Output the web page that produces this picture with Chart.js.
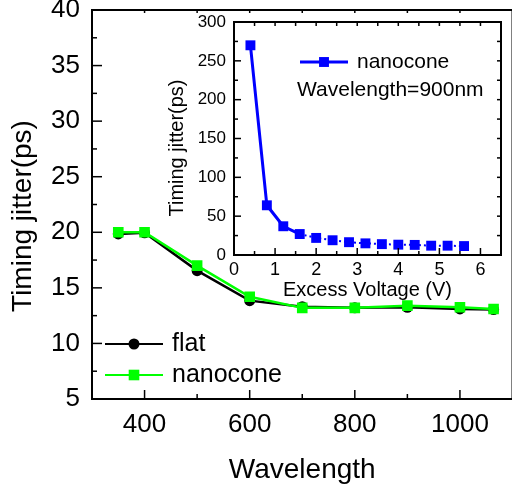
<!DOCTYPE html>
<html>
<head>
  <meta charset="utf-8">
  <title>Timing jitter vs wavelength</title>
  <script src="https://cdn.jsdelivr.net/npm/chart.js@4.4.1/dist/chart.umd.min.js"></script>
  <style>
    body { margin: 0; background: #fff; width: 512px; height: 490px; overflow: hidden; position: relative; }
    #main-chart { position: absolute; left: 0; top: 0; }
    #inset-chart { position: absolute; left: 150px; top: 0; }
  </style>
</head>
<body>
  <canvas id="main-chart" width="520" height="490"></canvas>
  <canvas id="inset-chart" width="362" height="305"></canvas>
  <script>
    // main plot: timing jitter vs wavelength
    const wavelengths = [350, 400, 500, 600, 700, 800, 900, 1000, 1064];
    const flatJitter = [19.85, 19.95, 16.55, 13.85, 13.3, 13.2, 13.25, 13.1, 13.05];
    const nanoconeJitter = [20.0, 20.0, 17.0, 14.2, 13.2, 13.2, 13.4, 13.25, 13.1];
    const wavelengthTicks = [400, 600, 800, 1000];
    const wavelengthMinor = [500, 700, 900];
    const jitterTicks = [5, 10, 15, 20, 25, 30, 35, 40];
    const jitterMinor = [7.5, 12.5, 17.5, 22.5, 27.5, 32.5, 37.5];

    // inset: nanocone jitter vs excess voltage at 900 nm
    const excessVoltage = [0.4, 0.8, 1.2, 1.6, 2.0, 2.4, 2.8, 3.2, 3.6, 4.0, 4.4, 4.8, 5.2, 5.6];
    const insetJitter = [270, 64, 37, 27, 22, 19, 16.5, 15, 14, 13.3, 13, 12, 12, 11.5];
    const voltageTicks = [0, 1, 2, 3, 4, 5, 6];
    const voltageMinor = [0.5, 1.5, 2.5, 3.5, 4.5, 5.5, 6.5];
    const insetJitterTicks = [0, 50, 100, 150, 200, 250, 300];
    const insetJitterMinor = [25, 75, 125, 175, 225, 275];

    const FONT = '"Liberation Sans", Arial, sans-serif';
    Chart.defaults.font.family = FONT;
    Chart.defaults.color = '#000';

    const toPoints = (xs, ys) => xs.map((x, i) => ({ x: x, y: ys[i] }));
    const fixTicks = vals => s => { s.ticks = vals.map(v => ({ value: v })); };
    const plainLabel = v => String(v);
    // fixed axis box sizes, no extra padding for the end labels
    const fitX = h => s => { s.height = h; s.paddingLeft = 0; s.paddingRight = 0; };
    const fitY = w => s => { s.width = w; s.paddingTop = 0; s.paddingBottom = 0; };

    // frame, inward ticks, legend and free text (Origin style)
    const framePlugin = {
      id: 'frame',
      afterDatasetsDraw(chart, args, opts) {
        const { ctx, chartArea: a, scales } = chart;
        ctx.save();
        ctx.strokeStyle = '#000';
        ctx.lineWidth = 2;
        ctx.strokeRect(a.left, a.top, a.right - a.left, a.bottom - a.top);
        ctx.lineWidth = 1.5;
        (opts.marks || []).forEach(m => {
          m.values.forEach(v => {
            ctx.beginPath();
            if (m.side === 'bottom' || m.side === 'top') {
              const px = scales.x.getPixelForValue(v);
              const y0 = m.side === 'bottom' ? a.bottom : a.top;
              ctx.moveTo(px, y0);
              ctx.lineTo(px, m.side === 'bottom' ? y0 - m.len : y0 + m.len);
            } else {
              const py = scales.y.getPixelForValue(v);
              const x0 = m.side === 'left' ? a.left : a.right;
              ctx.moveTo(x0, py);
              ctx.lineTo(m.side === 'left' ? x0 + m.len : x0 - m.len, py);
            }
            ctx.stroke();
          });
        });
        (opts.legend || []).forEach(e => {
          const ds = chart.data.datasets[e.index];
          ctx.strokeStyle = ds.borderColor;
          ctx.lineWidth = e.lineWidth || ds.borderWidth;
          ctx.setLineDash([]);
          ctx.beginPath();
          ctx.moveTo(e.x1, e.y);
          ctx.lineTo(e.x2, e.y);
          ctx.stroke();
          ctx.fillStyle = ds.pointBackgroundColor;
          ctx.strokeStyle = ds.pointBorderColor;
          Chart.helpers.drawPoint(ctx, { pointStyle: ds.pointStyle, radius: ds.pointRadius, borderWidth: 0 }, (e.x1 + e.x2) / 2, e.y);
          ctx.fillStyle = '#000';
          ctx.font = e.size + 'px ' + FONT;
          ctx.textAlign = 'left';
          ctx.textBaseline = 'middle';
          ctx.fillText(ds.label, e.x2 + 9, e.y);
        });
        (opts.texts || []).forEach(t => {
          ctx.save();
          ctx.fillStyle = '#000';
          ctx.font = t.size + 'px ' + FONT;
          ctx.textBaseline = 'middle';
          ctx.textAlign = t.rotate ? 'center' : 'left';
          ctx.translate(t.x, t.y);
          if (t.rotate) ctx.rotate(-Math.PI / 2);
          ctx.fillText(t.text, 0, 0);
          ctx.restore();
        });
        ctx.restore();
      }
    };

    new Chart(document.getElementById('main-chart'), {
      type: 'line',
      data: {
        datasets: [
          {
            label: 'flat', data: toPoints(wavelengths, flatJitter), order: 2,
            borderColor: '#000', borderWidth: 2.5,
            pointStyle: 'circle', pointRadius: 5.5, pointBorderWidth: 0,
            pointBackgroundColor: '#000', pointBorderColor: '#000'
          },
          {
            label: 'nanocone', data: toPoints(wavelengths, nanoconeJitter), order: 1,
            borderColor: '#00ff00', borderWidth: 2.5,
            pointStyle: 'rect', pointRadius: 7.5, pointBorderWidth: 0,
            pointBackgroundColor: '#00ff00', pointBorderColor: '#00ff00'
          }
        ]
      },
      options: {
        responsive: false,
        animation: false,
        devicePixelRatio: 1,
        layout: { padding: { top: 10, right: 7, left: 0, bottom: 0 } },
        plugins: {
          legend: { display: false },
          tooltip: { enabled: false },
          frame: {
            marks: [
              { side: 'bottom', values: wavelengthTicks, len: 9 },
              { side: 'bottom', values: wavelengthMinor, len: 5 },
              { side: 'top', values: wavelengthTicks.concat(wavelengthMinor), len: 3 },
              { side: 'left', values: jitterTicks, len: 10 },
              { side: 'left', values: jitterMinor, len: 5 }
            ],
            legend: [
              { index: 0, x1: 105, x2: 163, y: 344, size: 25, lineWidth: 2 },
              { index: 1, x1: 105, x2: 163, y: 375, size: 25, lineWidth: 2 }
            ],
            texts: [
              { text: 'Timing jitter(ps)', x: 23, y: 216, size: 28, rotate: true }
            ]
          }
        },
        scales: {
          x: {
            type: 'linear', min: 300, max: 1100,
            afterBuildTicks: fixTicks(wavelengthTicks),
            afterFit: fitX(91),
            grid: { display: false, drawTicks: false },
            border: { display: false },
            ticks: { font: { size: 26 }, padding: 10, maxRotation: 0, autoSkip: false, callback: plainLabel },
            title: { display: true, text: 'Wavelength', font: { size: 28 }, padding: { top: 0, bottom: 3 } }
          },
          y: {
            type: 'linear', min: 5, max: 40,
            afterBuildTicks: fixTicks(jitterTicks),
            afterFit: fitY(92),
            grid: { display: false, drawTicks: false },
            border: { display: false },
            ticks: { font: { size: 26 }, padding: 12, callback: plainLabel }
          }
        }
      },
      plugins: [framePlugin]
    });

    new Chart(document.getElementById('inset-chart'), {
      type: 'line',
      data: {
        datasets: [
          {
            label: 'nanocone', data: toPoints(excessVoltage, insetJitter),
            borderColor: '#0000ff', borderWidth: 3,
            pointStyle: 'rect', pointRadius: 7, pointBorderWidth: 0,
            pointBackgroundColor: '#0000ff', pointBorderColor: '#0000ff',
            segment: {
              borderDash: c => c.p0DataIndex >= 3 ? [2, 3] : undefined,
              borderWidth: c => c.p0DataIndex >= 3 ? 2 : undefined
            }
          }
        ]
      },
      options: {
        responsive: false,
        animation: false,
        devicePixelRatio: 1,
        layout: { padding: { top: 22, right: 11, left: 0, bottom: 0 } },
        plugins: {
          legend: { display: false },
          tooltip: { enabled: false },
          frame: {
            marks: [
              { side: 'bottom', values: voltageTicks, len: 7 },
              { side: 'bottom', values: voltageMinor, len: 4 },
              { side: 'top', values: voltageTicks.concat(voltageMinor), len: 4 },
              { side: 'left', values: insetJitterTicks, len: 7 },
              { side: 'left', values: insetJitterMinor, len: 4 },
              { side: 'right', values: insetJitterTicks.concat(insetJitterMinor), len: 4 }
            ],
            legend: [
              { index: 0, x1: 150, x2: 198, y: 62, size: 21, lineWidth: 3 }
            ],
            texts: [
              { text: 'Wavelength=900nm', x: 147, y: 90, size: 21 },
              { text: 'Timing jitter(ps)', x: 27, y: 148, size: 20, rotate: true }
            ]
          }
        },
        scales: {
          x: {
            type: 'linear', min: 0, max: 6.5,
            afterBuildTicks: fixTicks(voltageTicks),
            afterFit: fitX(50),
            grid: { display: false, drawTicks: false },
            border: { display: false },
            ticks: { font: { size: 18 }, padding: 4, maxRotation: 0, autoSkip: false, callback: plainLabel },
            title: { display: true, text: 'Excess Voltage (V)', font: { size: 20 }, padding: { top: 0, bottom: 3 } }
          },
          y: {
            type: 'linear', min: 0, max: 300,
            afterBuildTicks: fixTicks(insetJitterTicks),
            afterFit: fitY(84),
            grid: { display: false, drawTicks: false },
            border: { display: false },
            ticks: { font: { size: 17 }, padding: 8, callback: plainLabel }
          }
        }
      },
      plugins: [framePlugin]
    });
  </script>
</body>
</html>
